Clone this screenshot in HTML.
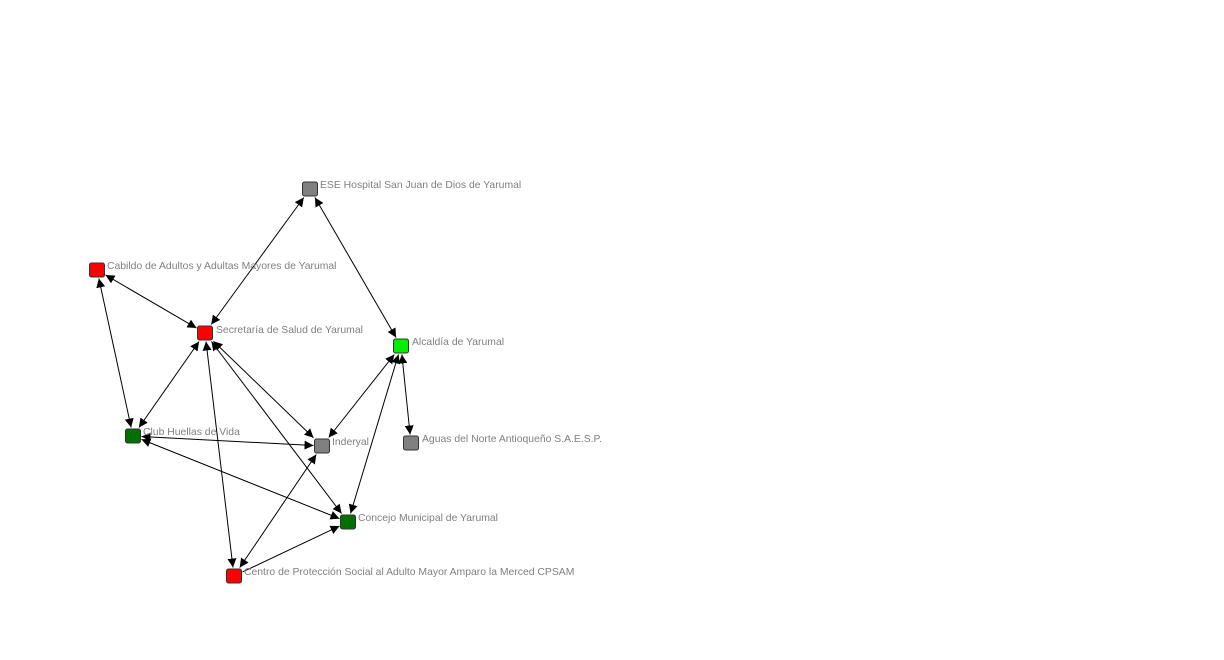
<!DOCTYPE html>
<html><head><meta charset="utf-8"><style>
html,body{margin:0;padding:0;background:#fff;width:1224px;height:660px;overflow:hidden}
text{font-family:"Liberation Sans",sans-serif;font-size:10.4px;fill:#808080}
</style></head><body>
<svg id="s" width="1224" height="660" xmlns="http://www.w3.org/2000/svg">
<defs><marker id="a" viewBox="0 0 10 10" refX="10" refY="5" markerWidth="9" markerHeight="9" markerUnits="userSpaceOnUse" orient="auto-start-reverse"><path d="M0,0L10,5L0,10z" fill="#000"/></marker></defs>
<g id="e"></g><g id="n"></g>
<text x="320" y="188">ESE Hospital San Juan de Dios de Yarumal</text>
<text x="107" y="269">Cabildo de Adultos y Adultas Mayores de Yarumal</text>
<text x="216" y="333">Secretaría de Salud de Yarumal</text>
<text x="412" y="345">Alcaldía de Yarumal</text>
<text x="143" y="435">Club Huellas de Vida</text>
<text x="332" y="445">Inderyal</text>
<text x="422" y="442">Aguas del Norte Antioqueño S.A.E.S.P.</text>
<text x="358" y="521">Concejo Municipal de Yarumal</text>
<text x="244" y="575">Centro de Protección Social al Adulto Mayor Amparo la Merced CPSAM</text>
</svg>
<script>
var N={ese:[310,189,'#808080'],cab:[97,270,'#ff0000'],sec:[205,333,'#ff0000'],alc:[401,346,'#00ee00'],club:[133,436,'#007000'],ind:[322,446,'#808080'],agu:[411,443,'#808080'],con:[348,522,'#007000'],cen:[234,576,'#ff0000']};
var E=[['sec','ese',1],['ese','alc',1],['cab','sec',1],['cab','club',1],['club','sec',1],['club','ind',1],['con','club',1],['sec','ind',1],['sec','con',1],['sec','cen',1],['alc','ind',1],['alc','con',1],['alc','agu',1],['cen','ind',1],['cen','con',0]];
var ns='http://www.w3.org/2000/svg',g=document.getElementById('e'),gn=document.getElementById('n');
function clip(x,y,dx,dy){var h=8.5,t=Math.min(Math.abs(dx)>0?h/Math.abs(dx):1e9,Math.abs(dy)>0?h/Math.abs(dy):1e9);return [x+dx*t,y+dy*t];}
E.forEach(function(e){var A=N[e[0]],B=N[e[1]],dx=B[0]-A[0],dy=B[1]-A[1];
var p=clip(A[0],A[1],dx,dy),q=clip(B[0],B[1],-dx,-dy);
var l=document.createElementNS(ns,'line');l.setAttribute('x1',p[0]);l.setAttribute('y1',p[1]);l.setAttribute('x2',q[0]);l.setAttribute('y2',q[1]);
l.setAttribute('stroke','#000');l.setAttribute('stroke-width','1');l.setAttribute('marker-end','url(#a)');if(e[2])l.setAttribute('marker-start','url(#a)');
g.appendChild(l);});
for(var k in N){var r=document.createElementNS(ns,'rect');r.setAttribute('x',N[k][0]-7.5);r.setAttribute('y',N[k][1]-7);r.setAttribute('width',15);r.setAttribute('height',14);r.setAttribute('rx',2);r.setAttribute('fill',N[k][2]);r.setAttribute('stroke','#333');gn.appendChild(r);}
</script>
</body></html>
